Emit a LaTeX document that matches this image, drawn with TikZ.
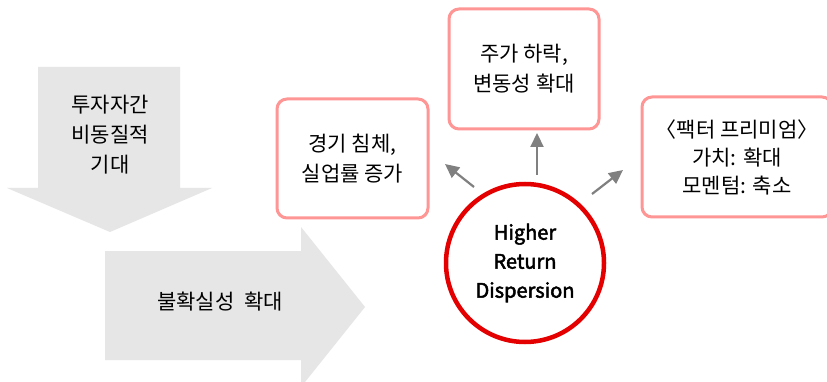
\documentclass[tikz,border=0pt]{standalone}
\usepackage{fontspec}
\setmainfont{Noto Sans CJK KR}
\newfontfamily\engfont[FakeBold=2.5]{Noto Sans CJK KR}
\usetikzlibrary{arrows.meta}
\definecolor{shade}{RGB}{230,230,230}
\definecolor{boxpink}{RGB}{255,150,150}
\definecolor{ringred}{RGB}{228,0,0}
\definecolor{ptrgray}{RGB}{128,128,128}
\tikzset{
  bigarrow/.style={fill=shade, draw=none},
  plaintext/.style={align=center, font=\fontsize{21}{30}\selectfont, inner sep=0pt},
  pinkbox/.style={draw=boxpink, line width=3pt, rounded corners=10pt, fill=white,
    align=center, font=\fontsize{21}{30}\selectfont, inner sep=0pt},
  ring/.style={circle, draw=ringred, line width=4.5pt, fill=white, minimum size=158pt,
    inner sep=0pt, align=center, font=\engfont\fontsize{20}{29}\selectfont},
  ptr/.style={draw=ptrgray, line width=2.2pt, -{Triangle[length=14pt, width=13pt]}}
}
\begin{document}
\begin{tikzpicture}[x=1pt, y=-1pt]
\clip (0,0) rectangle (827,382);
\fill[white] (0,0) rectangle (827,382);
% big arrows
\path[bigarrow] (38,67) -- (180,67) -- (180,188) -- (212,188) -- (110,232) -- (7,188) -- (38,188) -- cycle;
\path[bigarrow] (105,251) -- (301,251) -- (301,227) -- (365,307) -- (301,387) -- (301,360) -- (105,360) -- cycle;
\node[plaintext] (expect) at (110,135) {투자자간\\비동질적\\기대};
\node[plaintext] (uncert) at (220,302) {불확실성\ \ 확대};
% boxes
\node[pinkbox, minimum width=151pt, minimum height=119pt] (econ) at (352.5,158.5) {경기 침체,\\실업률 증가};
\node[pinkbox, minimum width=150pt, minimum height=120pt] (stock) at (524,69) {주가 하락,\\변동성 확대};
\node[pinkbox, minimum width=190pt, minimum height=120pt, font=\fontsize{21}{28}\selectfont] (factor) at (737,157) {〈팩터 프리미엄〉\\가치: 확대\\모멘텀: 축소};
% circle
\node[ring] (disp) at (525,263) {Higher\\Return\\Dispersion};
% connectors
\coordinate (l1) at (474,187); \coordinate (l2) at (445,164);
\coordinate (t1) at (537,175); \coordinate (t2) at (537,133);
\coordinate (r1) at (592,194); \coordinate (r2) at (623,170);
\draw[ptr] (l1) -- (l2);
\draw[ptr] (t1) -- (t2);
\draw[ptr] (r1) -- (r2);
\end{tikzpicture}
\end{document}
